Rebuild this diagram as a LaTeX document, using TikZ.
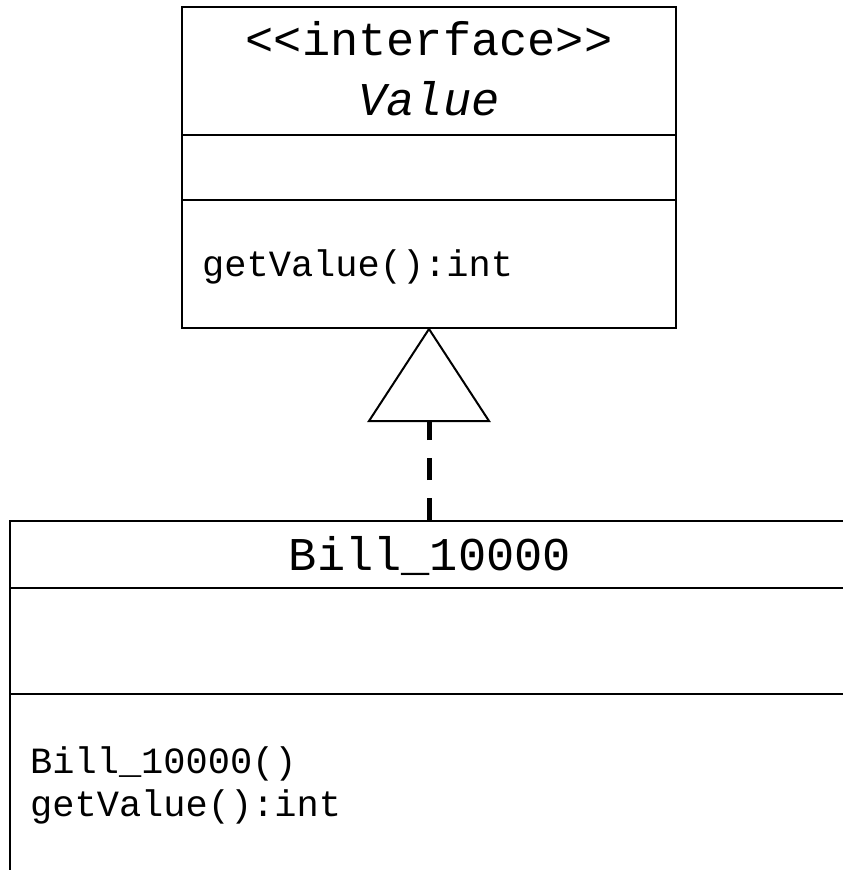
\documentclass[tikz,border=0pt]{standalone}
\usepackage{fontspec}
\setmonofont{Liberation Mono}
\begin{document}
\begin{tikzpicture}[x=1pt,y=-1pt,
  box/.style={draw,line width=2pt,rectangle,inner sep=0pt},
  sep/.style={line width=2pt},
  big/.style={inner sep=0pt,font=\ttfamily\fontsize{47}{47}\selectfont},
  small/.style={inner sep=0pt,font=\ttfamily\fontsize{37}{37}\selectfont},
  realize/.style={line width=5pt,dash pattern=on 22pt off 18pt},
  head/.style={line width=2pt,fill=white,line join=miter}]
\useasboundingbox (0,0) rectangle (843,870);
\clip (0,0) rectangle (843,870);
\fill[white] (0,0) rectangle (843,870);
% interface box
\node[box,minimum width=494pt,minimum height=321pt] (value) at (429,167.5) {};
\draw[sep] (value.west |- 0,135) coordinate (v1l) -- (value.east |- 0,135) coordinate (v1r);
\draw[sep] (value.west |- 0,200) coordinate (v2l) -- (value.east |- 0,200) coordinate (v2r);
\node[big,anchor=base] (stereo) at (429,55) {<{}<interface>{}>};
\node[big,anchor=base] (vname) at (429,115) {\itshape Value};
\node[small,anchor=base west] (vop) at (202,276) {getValue():int};
% class box
\node[box,minimum width=840pt,minimum height=370pt] (bill) at (430,706) {};
\draw[sep] (bill.west |- 0,588) -- (bill.east |- 0,588);
\draw[sep] (bill.west |- 0,694) -- (bill.east |- 0,694);
\node[big,anchor=base] (bname) at (430,570) {Bill\_10000};
\node[small,anchor=base west] (bop1) at (30,773) {Bill\_10000()};
\node[small,anchor=base west] (bop2) at (30,816) {getValue():int};
% realization
\coordinate (tb) at (429,421);
\draw[realize] (bill.north -| tb) -- (tb);
\draw[head] (value.south -| tb) -- (369,421) -- (489,421) -- cycle;
\end{tikzpicture}
\end{document}
